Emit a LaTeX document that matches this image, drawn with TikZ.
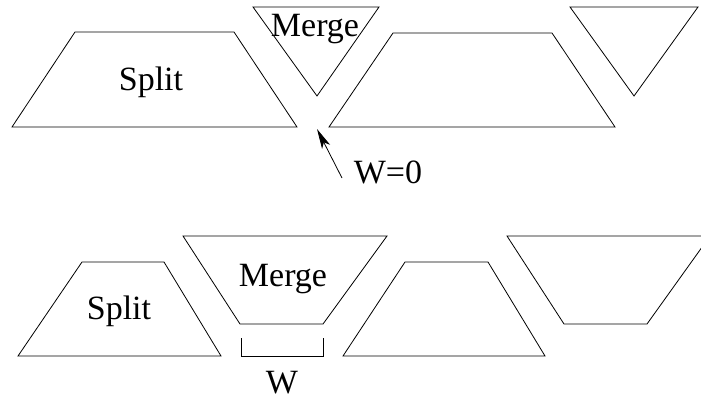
\documentclass[tikz,border=0pt]{standalone}
\usepackage{fontspec}
\setmainfont{Liberation Serif}
\usetikzlibrary{arrows.meta}
\begin{document}
\begin{tikzpicture}[x=1pt,y=-1pt,
  shp/.style={draw=black,line width=0.8pt,line join=miter},
  lbl/.style={font=\fontsize{34}{38}\selectfont,anchor=base,inner sep=0pt}]
\useasboundingbox (0,0) rectangle (701,401);
\clip (0,0) rectangle (701,401);
% top row
\draw[shp] (12,127) -- (75,32) -- (234,32) -- (297,127) -- cycle;
\draw[shp] (253,7) -- (379,7) -- (317,96) -- cycle;
\draw[shp] (329,127) -- (393,33) -- (552,33) -- (615,127) -- cycle;
\draw[shp] (570,7) -- (698,7) -- (634,96) -- cycle;
\node[lbl] (split1) at (151,91) {Split};
\node[lbl] (merge1) at (315,37) {Merge};
\node[lbl] (w0) at (388,183) {W=0};
\coordinate (tip) at (317,129);
\coordinate (tail) at (342,178);
\draw[line width=0.8pt,-{Stealth[length=20pt,width=9pt,inset=5pt]}] (tail) -- (tip);
% bottom row
\draw[shp] (18,356) -- (82,262) -- (164,262) -- (221,356) -- cycle;
\draw[shp] (183,236) -- (387,236) -- (323,324) -- (240,324) -- cycle;
\draw[shp] (343,356) -- (405,262) -- (488,262) -- (545,356) -- cycle;
\draw[shp] (507,236) -- (710,236) -- (647,324) -- (564,324) -- cycle;
\draw[shp] (241,338) -- (241,356) -- (323,356) -- (323,338);
\node[lbl] (split2) at (119,319) {Split};
\node[lbl] (merge2) at (283,286) {Merge};
\node[lbl] (w) at (282,393) {W};
\end{tikzpicture}
\end{document}
